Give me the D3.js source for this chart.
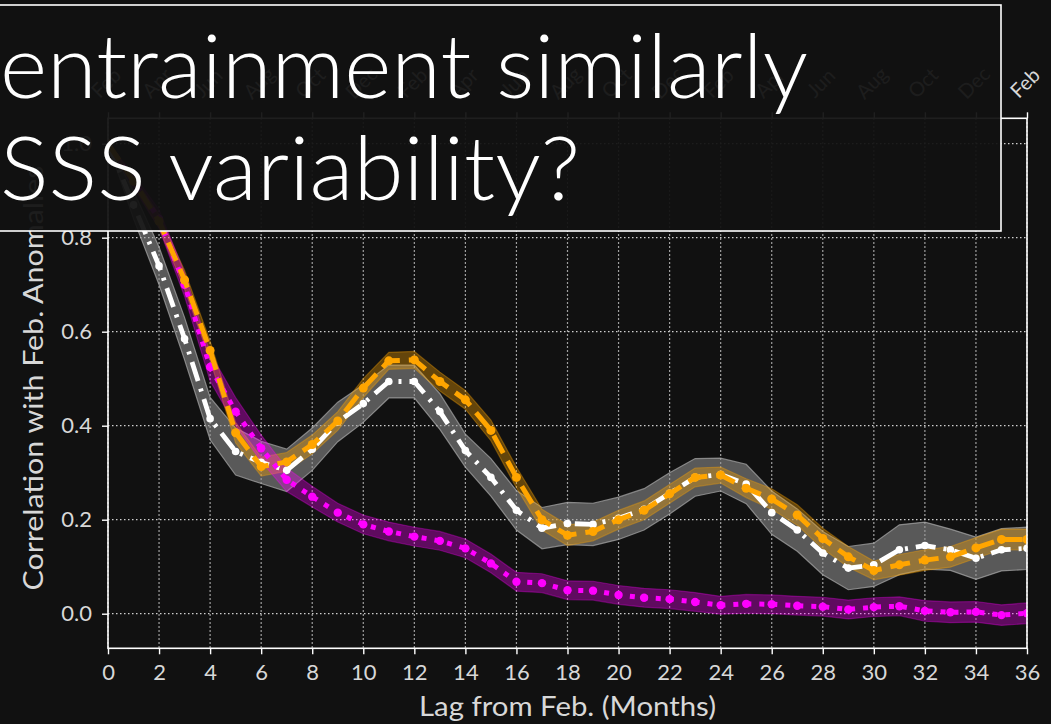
<!DOCTYPE html>
<html>
<head>
<meta charset="utf-8">
<script src="https://cdn.jsdelivr.net/npm/d3@7"></script>
<style>
  html, body { margin: 0; padding: 0; background: #111111; }
  svg { display: block; }
</style>
</head>
<body>
<svg id="chart" width="1051" height="724"></svg>
<script>
// Lag in months after February
const lags = [0,1,2,3,4,5,6,7,8,9,10,11,12,13,14,15,16,17,18,19,20,21,22,23,24,25,26,27,28,29,30,31,32,33,34,35,36];

// Lag correlation curves and the half-width of their spread
const corrA = [1.0,0.87,0.74,0.585,0.415,0.345,0.322,0.305,0.35,0.408,0.447,0.494,0.494,0.43,0.347,0.29,0.22,0.182,0.192,0.19,0.203,0.222,0.256,0.29,0.296,0.276,0.215,0.178,0.129,0.097,0.104,0.136,0.145,0.136,0.118,0.136,0.139];
const spreadA = [0,0.03,0.04,0.045,0.045,0.05,0.045,0.045,0.045,0.042,0.04,0.035,0.035,0.038,0.035,0.04,0.042,0.044,0.045,0.045,0.045,0.044,0.044,0.04,0.035,0.042,0.046,0.045,0.046,0.046,0.046,0.053,0.05,0.044,0.045,0.045,0.045];

const corrB = [1.0,0.92,0.835,0.71,0.56,0.385,0.313,0.323,0.36,0.41,0.48,0.538,0.54,0.494,0.455,0.39,0.29,0.2,0.167,0.175,0.2,0.22,0.255,0.29,0.295,0.267,0.244,0.21,0.16,0.121,0.092,0.104,0.114,0.121,0.14,0.158,0.158];
const spreadB = [0,0.01,0.015,0.02,0.02,0.022,0.02,0.02,0.02,0.02,0.02,0.018,0.018,0.02,0.02,0.022,0.022,0.022,0.022,0.02,0.02,0.02,0.02,0.02,0.017,0.02,0.022,0.022,0.022,0.022,0.02,0.022,0.022,0.022,0.022,0.022,0.022];

const corrC = [1.0,0.92,0.84,0.70,0.525,0.43,0.352,0.285,0.249,0.215,0.19,0.175,0.164,0.155,0.139,0.107,0.068,0.065,0.05,0.049,0.04,0.034,0.031,0.025,0.018,0.021,0.02,0.017,0.015,0.009,0.014,0.016,0.006,0.003,0.004,-0.003,0.001];
const spreadC = [0,0.015,0.02,0.025,0.03,0.03,0.028,0.025,0.022,0.02,0.02,0.02,0.02,0.02,0.02,0.02,0.02,0.02,0.02,0.02,0.02,0.02,0.02,0.02,0.019,0.02,0.02,0.02,0.02,0.02,0.02,0.02,0.022,0.022,0.022,0.022,0.022];

// Axis ticks
const xTicks = [0,2,4,6,8,10,12,14,16,18,20,22,24,26,28,30,32,34,36];
const monthLabels = ["Feb","Apr","Jun","Aug","Oct","Dec","Feb","Apr","Jun","Aug","Oct","Dec","Feb","Apr","Jun","Aug","Oct","Dec","Feb"];
const yTicks = [0.0,0.2,0.4,0.6,0.8,1.0];

const titleLines = ["entrainment similarly", "SSS variability?"];

const svg = d3.select("#chart");
const W = 1051, H = 724;
const pLeft = 108, pRight = 1027, pTop = 118.3, pBottom = 648.3;

svg.append("rect").attr("width", W).attr("height", H).attr("fill", "#111111");

const x = d3.scaleLinear().domain([0, 36]).range([pLeft, pRight]);
const y = d3.scaleLinear().domain([-0.0736, 1.054]).range([pBottom, pTop]);

const axisFont = "Lato, 'Open Sans', sans-serif";

// grid
const grid = svg.append("g");
grid.selectAll("line.vx").data(xTicks).join("line")
  .attr("x1", d => x(d)).attr("x2", d => x(d))
  .attr("y1", pTop).attr("y2", pBottom)
  .attr("stroke", "#d0d0d0").attr("stroke-width", 1.2).attr("stroke-dasharray", "1.5,2.5");
grid.selectAll("line.hy").data(yTicks).join("line")
  .attr("x1", pLeft).attr("x2", pRight)
  .attr("y1", d => y(d)).attr("y2", d => y(d))
  .attr("stroke", "#d0d0d0").attr("stroke-width", 1.2).attr("stroke-dasharray", "1.5,2.5");

svg.append("clipPath").attr("id", "plotClip").append("rect")
  .attr("x", pLeft).attr("y", pTop).attr("width", pRight - pLeft).attr("height", pBottom - pTop);
const plot = svg.append("g").attr("clip-path", "url(#plotClip)");

function band(vals, spread) {
  return d3.area()
    .x((d, i) => x(lags[i]))
    .y0((d, i) => y(vals[i] - spread[i]))
    .y1((d, i) => y(vals[i] + spread[i]))(vals);
}
const line = d3.line().x((d, i) => x(lags[i])).y(d => y(d));

// spread bands
plot.append("path").attr("d", band(corrA, spreadA))
  .attr("fill", "rgba(150,150,150,0.55)").attr("stroke", "rgba(170,170,170,0.7)").attr("stroke-width", 1.2);
plot.append("path").attr("d", band(corrB, spreadB))
  .attr("fill", "rgba(255,165,0,0.35)").attr("stroke", "rgba(255,165,0,0.35)").attr("stroke-width", 1.2);
plot.append("path").attr("d", band(corrC, spreadC))
  .attr("fill", "rgba(255,0,255,0.33)").attr("stroke", "rgba(255,0,255,0.3)").attr("stroke-width", 1.2);

function series(vals, color, width, dash, r) {
  plot.append("path").attr("d", line(vals))
    .attr("fill", "none").attr("stroke", color).attr("stroke-width", width)
    .attr("stroke-dasharray", dash).attr("stroke-linejoin", "round");
  plot.append("g").selectAll("circle").data(vals).join("circle")
    .attr("cx", (d, i) => x(lags[i])).attr("cy", d => y(d)).attr("r", r).attr("fill", color);
}
series(corrA, "#ffffff", 4.8, "20,8,3,8", 3.8);
series(corrC, "#ff00ff", 5, "5,8", 4.2);
series(corrB, "#ffa500", 5, "20,9", 4.5);

// frame
svg.append("rect").attr("x", pLeft).attr("y", pTop).attr("width", pRight - pLeft).attr("height", pBottom - pTop)
  .attr("fill", "none").attr("stroke", "#ffffff").attr("stroke-width", 1.6);

// bottom axis
const xAxis = svg.append("g").attr("transform", `translate(0,${pBottom})`)
  .call(d3.axisBottom(x).tickValues(xTicks).tickSize(6).tickPadding(10).tickFormat(d3.format("d")));
xAxis.select(".domain").remove();
xAxis.selectAll(".tick line").attr("stroke", "#ffffff").attr("stroke-width", 1.4);
xAxis.selectAll(".tick text").attr("fill", "#d8d8d8").style("font-family", axisFont).style("font-size", "22px");

// left axis
const yAxis = svg.append("g").attr("transform", `translate(${pLeft},0)`)
  .call(d3.axisLeft(y).tickValues(yTicks).tickSize(6).tickPadding(10).tickFormat(d3.format(".1f")));
yAxis.select(".domain").remove();
yAxis.selectAll(".tick line").attr("stroke", "#ffffff").attr("stroke-width", 1.4);
yAxis.selectAll(".tick text").attr("fill", "#d8d8d8").style("font-family", axisFont).style("font-size", "22px");

// top axis with calendar months
const topAxis = svg.append("g").attr("transform", `translate(0,${pTop})`)
  .call(d3.axisTop(x).tickValues(xTicks).tickSize(6).tickPadding(6).tickFormat((d, i) => monthLabels[i]));
topAxis.select(".domain").remove();
topAxis.selectAll(".tick line").attr("stroke", "#ffffff").attr("stroke-width", 1.4);
topAxis.selectAll(".tick text")
  .attr("fill", "#d8d8d8").style("font-family", axisFont).style("font-size", "20px")
  .attr("text-anchor", "middle").attr("dy", 0).attr("y", 0)
  .attr("dominant-baseline", "middle")
  .attr("transform", "translate(-1,-34) rotate(-45)");

// axis titles
svg.append("text").attr("x", (pLeft + pRight) / 2).attr("y", 716)
  .attr("text-anchor", "middle").attr("fill", "#d8d8d8")
  .style("font-family", axisFont).style("font-size", "27px")
  .attr("textLength", 297).attr("lengthAdjust", "spacingAndGlyphs")
  .text("Lag from Feb. (Months)");
svg.append("text").attr("transform", `translate(43,378) rotate(-90)`)
  .attr("text-anchor", "middle").attr("fill", "#d8d8d8")
  .style("font-family", axisFont).style("font-size", "27px")
  .attr("textLength", 425).attr("lengthAdjust", "spacingAndGlyphs")
  .text("Correlation with Feb. Anomalies");

// title box laid over the plot
svg.append("rect").attr("x", -4).attr("y", 5).attr("width", 1005).attr("height", 226)
  .attr("fill", "#111111").attr("fill-opacity", 0.94)
  .attr("stroke", "#ffffff").attr("stroke-width", 1.6);
const titleFont = "Lato, 'Open Sans', sans-serif";
svg.append("text").attr("x", 0).attr("y", 98)
  .attr("fill", "#ffffff").style("font-family", titleFont).style("font-weight", 300).style("font-size", "89px")
  .attr("textLength", 808).attr("lengthAdjust", "spacingAndGlyphs")
  .text(titleLines[0]);
svg.append("text").attr("x", 0).attr("y", 200)
  .attr("fill", "#ffffff").style("font-family", titleFont).style("font-weight", 300).style("font-size", "89px")
  .attr("textLength", 580).attr("lengthAdjust", "spacingAndGlyphs")
  .text(titleLines[1]);
</script>
</body>
</html>
